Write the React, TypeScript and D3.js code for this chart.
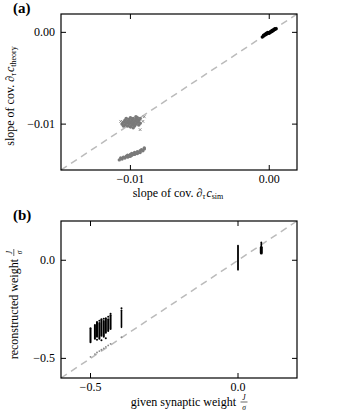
import React from "react";
import * as d3 from "d3";

// panel (a): slope of covariance, theory vs simulation
const blackCluster: [number, number][] = [
  [-0.0005, -0.0005], [-0.0004, -0.0004], [-0.0004, -0.0003], [-0.0003, -0.0003],
  [-0.0003, -0.0002], [-0.0002, -0.0002], [-0.0002, -0.0001], [-0.0001, -0.0001],
  [-0.0001, 0.0], [0.0, 0.0], [0.0, -0.0001], [0.0001, 0.0001], [0.0001, 0.0],
  [0.0002, 0.0001], [0.0002, 0.0002], [0.0003, 0.0002], [0.0003, 0.0003],
  [0.0004, 0.0003], [0.0004, 0.0004], [0.0005, 0.0004],
];
const grayBlob: [number, number][] = [
  [-0.0106, -0.01], [-0.0105, -0.0098], [-0.0104, -0.0101], [-0.0104, -0.0096],
  [-0.0103, -0.0099], [-0.0102, -0.0102], [-0.0102, -0.0097], [-0.0101, -0.01],
  [-0.0101, -0.0095], [-0.01, -0.0098], [-0.01, -0.0103], [-0.0099, -0.0101],
  [-0.0099, -0.0096], [-0.0098, -0.0099], [-0.0098, -0.0094], [-0.0097, -0.0102],
  [-0.0097, -0.0097], [-0.0096, -0.01], [-0.0096, -0.0095], [-0.0095, -0.0098],
  [-0.0095, -0.0093], [-0.0094, -0.0101], [-0.0094, -0.0096], [-0.0093, -0.0099],
  [-0.0093, -0.0094], [-0.0103, -0.0094], [-0.01, -0.0093], [-0.0105, -0.0102],
  [-0.0098, -0.0104], [-0.0096, -0.0092], [-0.0101, -0.0097], [-0.0099, -0.0099],
  [-0.0097, -0.01], [-0.0095, -0.0096],
];
const grayOutliers: [number, number][] = [
  [-0.009, -0.0092], [-0.0093, -0.0106], [-0.0107, -0.0097], [-0.0091, -0.0097],
];
const grayBand: [number, number][] = [
  [-0.0108, -0.0139], [-0.0107, -0.0137], [-0.0106, -0.0138], [-0.0105, -0.0136],
  [-0.0104, -0.0137], [-0.0103, -0.0135], [-0.0102, -0.0136], [-0.0102, -0.0134],
  [-0.0101, -0.0135], [-0.01, -0.0133], [-0.01, -0.0135], [-0.0099, -0.0134],
  [-0.0099, -0.0132], [-0.0098, -0.0133], [-0.0097, -0.0131], [-0.0097, -0.0133],
  [-0.0096, -0.0132], [-0.0095, -0.013], [-0.0095, -0.0132], [-0.0094, -0.0131],
  [-0.0093, -0.0129], [-0.0093, -0.0131], [-0.0092, -0.0128], [-0.0091, -0.0129],
  [-0.009, -0.0127], [-0.009, -0.0126],
];
const ticksA = [-0.01, 0.0];
const tickLabelsA = ["\u22120.01", "0.00"];

// panel (b): reconstructed vs given weight, columns [x, yLow, yHigh, width]
const columnsB: [number, number, number, number][] = [
  [-0.5, -0.418, -0.347, 2],
  [-0.485, -0.4, -0.33, 2],
  [-0.478, -0.39, -0.315, 2],
  [-0.47, -0.4, -0.32, 2],
  [-0.463, -0.385, -0.3, 2],
  [-0.455, -0.39, -0.31, 2],
  [-0.448, -0.37, -0.295, 2],
  [-0.44, -0.36, -0.3, 2],
  [-0.432, -0.35, -0.28, 2],
  [-0.395, -0.342, -0.255, 1.6],
  [0.0, -0.048, 0.074, 1.8],
  [0.079, 0.037, 0.065, 3],
  [0.079, 0.065, 0.092, 1.6],
];
const extraDotsB: [number, number][] = [
  [-0.47, -0.308], [-0.455, -0.298], [-0.44, -0.288], [-0.432, -0.272],
  [-0.463, -0.408], [-0.448, -0.398], [-0.478, -0.405], [-0.395, -0.245],
];
const grayDotsB: [number, number][] = [
  [-0.5, -0.492], [-0.485, -0.478], [-0.478, -0.47], [-0.47, -0.463],
  [-0.463, -0.456], [-0.455, -0.449], [-0.448, -0.441], [-0.44, -0.434],
  [-0.432, -0.426], [-0.395, -0.392],
];
const ticksB = [-0.5, 0.0];
const tickLabelsB = ["\u22120.5", "0.0"];

const FONT = "'Liberation Serif', 'DejaVu Serif', serif";
const TICK = 5;

function Frame({ x, y, ticks, labels }: any) {
  const [x0, x1] = x.range();
  const [y0, y1] = y.range(); // y0 bottom, y1 top
  return (
    <g>
      {/* dashed identity line */}
      <line
        x1={x(x.domain()[0])} y1={y(x.domain()[0])}
        x2={x(x.domain()[1])} y2={y(x.domain()[1])}
        stroke="#bbbbbb" strokeWidth={1.5} strokeDasharray="7,5"
      />
      <rect x={x0} y={y1} width={x1 - x0} height={y0 - y1} fill="none" stroke="#000" strokeWidth={1.2} />
      {ticks.map((t: number, i: number) => (
        <g key={i}>
          <line x1={x(t)} x2={x(t)} y1={y0} y2={y0 - TICK} stroke="#000" />
          <line x1={x(t)} x2={x(t)} y1={y1} y2={y1 + TICK} stroke="#000" />
          <line y1={y(t)} y2={y(t)} x1={x0} x2={x0 + TICK} stroke="#000" />
          <line y1={y(t)} y2={y(t)} x1={x1} x2={x1 - TICK} stroke="#000" />
          <text x={x(t)} y={y0 + 12.5} textAnchor="middle" fontSize={12}>{labels[i]}</text>
          <text x={x0 - 6} y={y(t) + 4} textAnchor="end" fontSize={12}>{labels[i]}</text>
        </g>
      ))}
    </g>
  );
}

export default function App() {
  const xA = d3.scaleLinear().domain([-0.015, 0.002]).range([61, 297]);
  const yA = d3.scaleLinear().domain([-0.015, 0.002]).range([170, 14]);
  const xB = d3.scaleLinear().domain([-0.6, 0.2]).range([61, 297]);
  const yB = d3.scaleLinear().domain([-0.6, 0.2]).range([378, 221]);
  const xMark = d3.symbol(d3.symbolX, 6)();

  return (
    <svg width={338} height={417} style={{ position: "absolute", left: 0, top: 0, background: "#fff" }}
      fontFamily={FONT}>
      {/* ---- panel (a) ---- */}
      <text x={13} y={13} fontSize={15} fontWeight="bold">(a)</text>
      <Frame x={xA} y={yA} ticks={ticksA} labels={tickLabelsA} />
      {grayBand.map((d, i) => (
        <circle key={"gb" + i} cx={xA(d[0])} cy={yA(d[1])} r={1.7} fill="#7a7a7a" />
      ))}
      {grayBlob.map((d, i) => (
        <circle key={"gl" + i} cx={xA(d[0])} cy={yA(d[1])} r={1.8} fill="#7a7a7a" />
      ))}
      {grayOutliers.map((d, i) => (
        <path key={"go" + i} d={xMark as string} transform={`translate(${xA(d[0])},${yA(d[1])})`}
          fill="none" stroke="#7a7a7a" strokeWidth={0.8} />
      ))}
      {blackCluster.map((d, i) => (
        <circle key={"bc" + i} cx={xA(d[0])} cy={yA(d[1])} r={1.7} fill="#000" />
      ))}
      <text x={178} y={197} textAnchor="middle" fontSize={12}>
        slope of cov.{" "}
        <tspan fontStyle="italic">∂</tspan>
        <tspan fontStyle="italic" fontSize={8} dy={2}>τ</tspan>
        <tspan fontStyle="italic" dy={-2} dx={1}>c</tspan>
        <tspan fontSize={8} dy={2}>sim</tspan>
      </text>
      <g transform="translate(14,96) rotate(-90)">
        <text x={0} y={0} textAnchor="middle" fontSize={12}>
          slope of cov.{" "}
          <tspan fontStyle="italic">∂</tspan>
          <tspan fontStyle="italic" fontSize={8} dy={2}>τ</tspan>
          <tspan fontStyle="italic" dy={-2} dx={1}>c</tspan>
          <tspan fontSize={8} dy={2}>theory</tspan>
        </text>
      </g>

      {/* ---- panel (b) ---- */}
      <text x={13} y={220} fontSize={15} fontWeight="bold">(b)</text>
      <Frame x={xB} y={yB} ticks={ticksB} labels={tickLabelsB} />
      {grayDotsB.map((d, i) => (
        <circle key={"gd" + i} cx={xB(d[0])} cy={yB(d[1])} r={0.9} fill="#888" />
      ))}
      {columnsB.map((d, i) => (
        <line key={"cb" + i} x1={xB(d[0])} x2={xB(d[0])} y1={yB(d[1])} y2={yB(d[2])}
          stroke="#000" strokeWidth={d[3]} strokeLinecap="round" />
      ))}
      {extraDotsB.map((d, i) => (
        <circle key={"ed" + i} cx={xB(d[0])} cy={yB(d[1])} r={1} fill="#000" />
      ))}
      <text x={236} y={406} textAnchor="end" fontSize={12}>given synaptic weight</text>
      <text x={244} y={400} textAnchor="middle" fontSize={7.5} fontStyle="italic">J</text>
      <line x1={240.5} x2={247.5} y1={402} y2={402} stroke="#000" strokeWidth={0.6} />
      <text x={244} y={409.5} textAnchor="middle" fontSize={7.5} fontStyle="italic">σ</text>
      <g transform="translate(18,0) rotate(-90)">
        <text x={-259} y={0} textAnchor="end" fontSize={12}>reconstructed weight</text>
        <text x={-252.5} y={-6.5} textAnchor="middle" fontSize={7.5} fontStyle="italic">J</text>
        <line x1={-256} x2={-249} y1={-4.2} y2={-4.2} stroke="#000" strokeWidth={0.6} />
        <text x={-252.5} y={3.5} textAnchor="middle" fontSize={7.5} fontStyle="italic">σ</text>
      </g>
    </svg>
  );
}
